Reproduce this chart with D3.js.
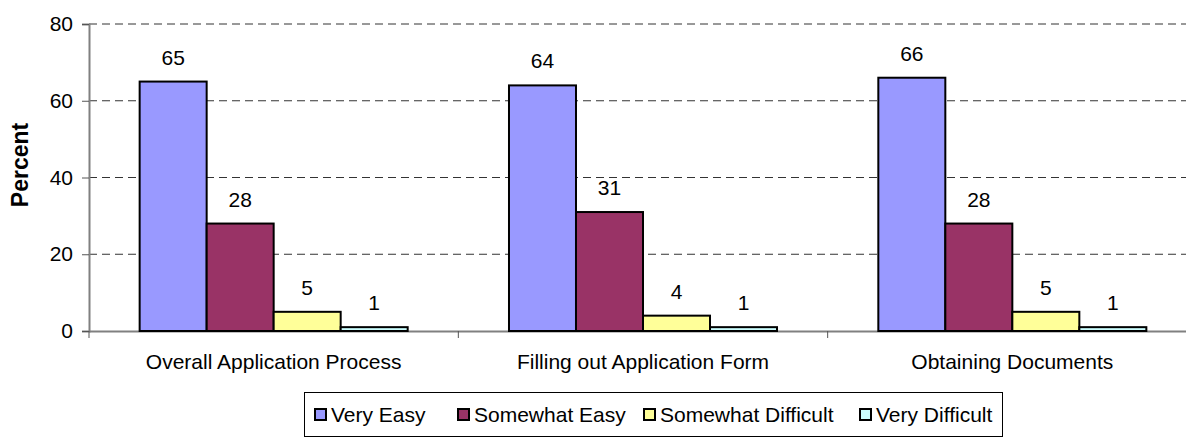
<!DOCTYPE html>
<html>
<head>
<meta charset="utf-8">
<script src="https://cdn.jsdelivr.net/npm/d3@7"></script>
<style>
  html, body { margin: 0; padding: 0; background: #fff; }
  svg { display: block; }
  text { font-family: "Liberation Sans", Arial, sans-serif; fill: #000; }
</style>
</head>
<body>
<script>
// Survey results: ease of each step of the application
const categories = ["Overall Application Process", "Filling out Application Form", "Obtaining Documents"];
const series = ["Very Easy", "Somewhat Easy", "Somewhat Difficult", "Very Difficult"];
const veryEasy = [65, 64, 66];
const somewhatEasy = [28, 31, 28];
const somewhatDifficult = [5, 4, 5];
const veryDifficult = [1, 1, 1];
const yTicks = [0, 20, 40, 60, 80];
const colors = ["#9999FF", "#993366", "#FFFF99", "#CCFFFF"];

const seriesValues = [veryEasy, somewhatEasy, somewhatDifficult, veryDifficult];

const W = 1186, H = 439;
const plotLeft = 89, plotTop = 24, plotBottom = 331, plotRight = 1197;
const FS = 21;

const svg = d3.select("body").append("svg").attr("width", W).attr("height", H);

const y = d3.scaleLinear().domain([0, 80]).range([plotBottom, plotTop]);
const x0 = d3.scaleBand().domain(categories).range([plotLeft, plotRight]).padding(0);
const x1 = d3.scaleBand().domain(series).range([0, x0.bandwidth()]).paddingInner(0).paddingOuter(0.756);

function label(g, x, yy, txt, size, anchor, weight) {
  return g.append("text")
    .attr("x", x).attr("y", yy)
    .attr("text-anchor", anchor || "middle")
    .style("font-size", size + "px")
    .style("font-weight", weight || "normal")
    .text(txt);
}

// dashed gridlines
svg.append("g").selectAll("line").data(yTicks.filter(t => t > 0)).join("line")
  .attr("x1", plotLeft).attr("x2", W)
  .attr("y1", d => y(d)).attr("y2", d => y(d))
  .attr("stroke", "#333").attr("stroke-width", 1)
  .attr("stroke-dasharray", "8,5");

// y axis
const yAxis = svg.append("g").attr("transform", `translate(${plotLeft},0)`)
  .call(d3.axisLeft(y).tickValues(yTicks).tickSize(7).tickFormat(""));
yAxis.select(".domain").attr("stroke", "#808080").attr("stroke-width", 2);
yAxis.selectAll(".tick line").attr("stroke", "#555").attr("stroke-width", 1);
yTicks.forEach(t => label(svg, 73, y(t) + 7, String(t), FS, "end"));

// x axis
const xAxis = svg.append("g").attr("transform", `translate(0,${plotBottom})`)
  .call(d3.axisBottom(x0).tickSize(0).tickFormat(""));
xAxis.select(".domain").attr("stroke", "#808080").attr("stroke-width", 2);
const boundaries = categories.map(c => x0(c)).concat([plotRight]);
svg.append("g").selectAll("line").data(boundaries).join("line")
  .attr("x1", d => d).attr("x2", d => d)
  .attr("y1", plotBottom).attr("y2", plotBottom + 7)
  .attr("stroke", "#555").attr("stroke-width", 1);
categories.forEach(c => label(svg, x0(c) + x0.bandwidth() / 2, 369, c, FS));

// bars
categories.forEach((c, ci) => {
  const g = svg.append("g").attr("transform", `translate(${x0(c)},0)`);
  series.forEach((s, si) => {
    const v = seriesValues[si][ci];
    g.append("rect")
      .attr("x", x1(s)).attr("width", x1.bandwidth())
      .attr("y", y(v)).attr("height", y(0) - y(v))
      .attr("fill", colors[si]).attr("stroke", "#000").attr("stroke-width", 2);
    label(g, x1(s) + x1.bandwidth() / 2, y(v) - 17, String(v), FS);
  });
});

// y axis title
svg.append("text")
  .attr("transform", "translate(28,165) rotate(-90)")
  .attr("text-anchor", "middle")
  .style("font-size", "23px").style("font-weight", "bold")
  .text("Percent");

// legend
const lg = svg.append("g");
lg.append("rect").attr("x", 304.5).attr("y", 392.5).attr("width", 698).attr("height", 44)
  .attr("fill", "#fff").attr("stroke", "#000").attr("stroke-width", 1);
const legendX = [315, 458, 644, 860];
series.forEach((s, i) => {
  lg.append("rect").attr("x", legendX[i]).attr("y", 409).attr("width", 11).attr("height", 11)
    .attr("fill", colors[i]).attr("stroke", "#000").attr("stroke-width", 2);
  label(lg, legendX[i] + 16, 422, s, FS, "start");
});
</script>
</body>
</html>
